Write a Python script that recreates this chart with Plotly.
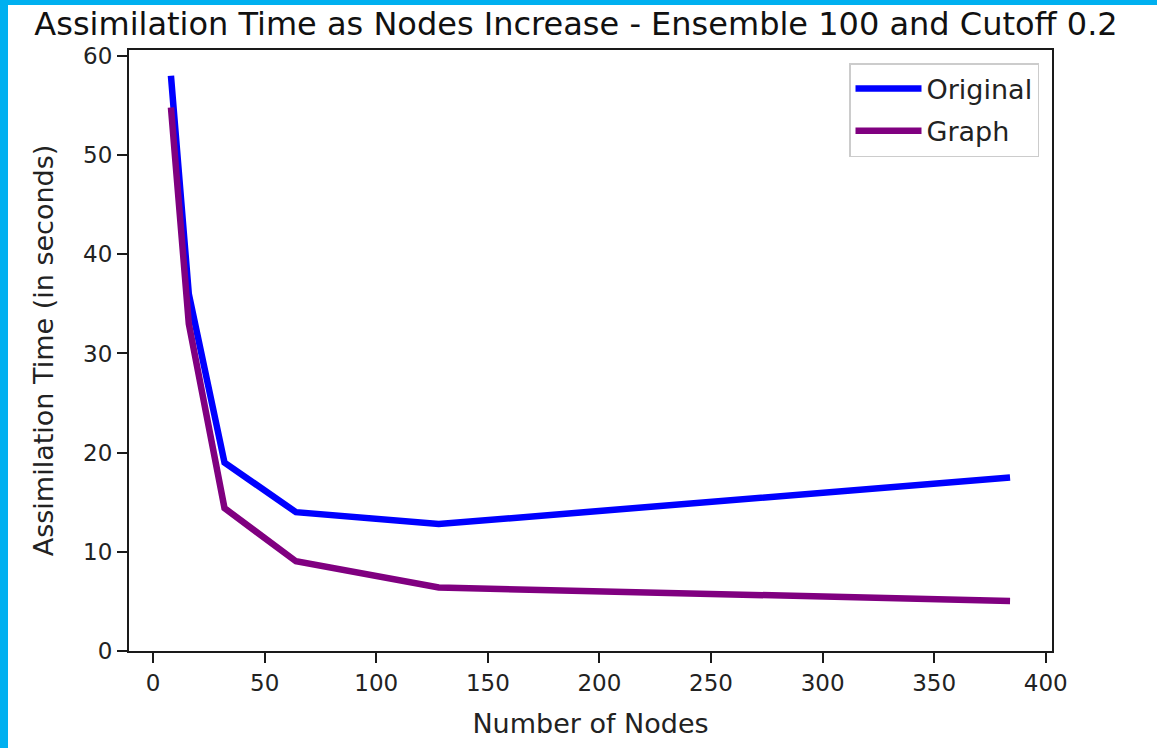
import plotly.graph_objects as go

nodes = [8, 16, 32, 64, 128, 384]
original = [58.0, 36.0, 19.0, 14.0, 12.8, 17.5]
graph = [54.8, 33.0, 14.4, 9.05, 6.4, 5.05]

x_ticks = [0, 50, 100, 150, 200, 250, 300, 350, 400]
y_ticks = [0, 10, 20, 30, 40, 50, 60]

W, H = 1157, 748
L, R, T, B = 129, 1052, 50, 651
pw, ph = R - L, B - T

font = "DejaVu Sans"

fig = go.Figure()
fig.add_trace(go.Scatter(x=nodes, y=original, mode="lines", name="Original",
                         legendgroup="a",
                         line=dict(color="#0000ff", width=6.5)))
fig.add_trace(go.Scatter(x=nodes, y=graph, mode="lines", name="Graph",
                         legendgroup="b",
                         line=dict(color="#800080", width=6.5)))

axis_common = dict(showline=True, linecolor="#1a1a1a", linewidth=2, mirror=True,
                   ticks="outside", ticklen=10, tickwidth=2, tickcolor="#1a1a1a",
                   showgrid=False, zeroline=False,
                   tickfont=dict(family=font, size=23, color="#222222"))

fig.update_layout(
    width=W, height=H,
    margin=dict(l=L, r=W - R, t=T, b=H - B, pad=0),
    paper_bgcolor="#00b0f0", plot_bgcolor="white",
    title=dict(text="Assimilation Time as Nodes Increase - Ensemble 100 and Cutoff 0.2",
               x=576 / W, xref="container", xanchor="center",
               y=1 - 24 / H, yanchor="middle",
               font=dict(family=font, size=32, color="#111111")),
    xaxis=dict(range=[-10.8, 402.8], tickvals=x_ticks,
               title=dict(text="Number of Nodes", standoff=20,
                          font=dict(family=font, size=27, color="#222222")),
               **axis_common),
    yaxis=dict(range=[0, 60.6], tickvals=y_ticks,
               title=dict(text="Assimilation Time (in seconds)", standoff=22,
                          font=dict(family=font, size=27, color="#222222")),
               **axis_common),
    legend=dict(x=(1039 - L) / pw, y=(B - 63) / ph, xanchor="right", yanchor="top",
                bgcolor="white", bordercolor="#cccccc", borderwidth=1.5,
                font=dict(family=font, size=27, color="#222222"),
                tracegroupgap=4, itemwidth=66),
    showlegend=True,
)

# white page area inside the cyan frame (frame shows on top and left edges)
fig.add_shape(type="rect", xref="paper", yref="paper",
              x0=(8 - L) / pw, x1=(W + 20 - L) / pw, y0=-(H + 20 - B) / ph, y1=(B - 5) / ph,
              fillcolor="white", line=dict(width=0), layer="below")

fig.write_html("out.html", config={"displayModeBar": False, "staticPlot": True},
               post_script="document.body.style.margin='0';document.body.style.overflow='hidden';window.scrollTo(0,0);")
